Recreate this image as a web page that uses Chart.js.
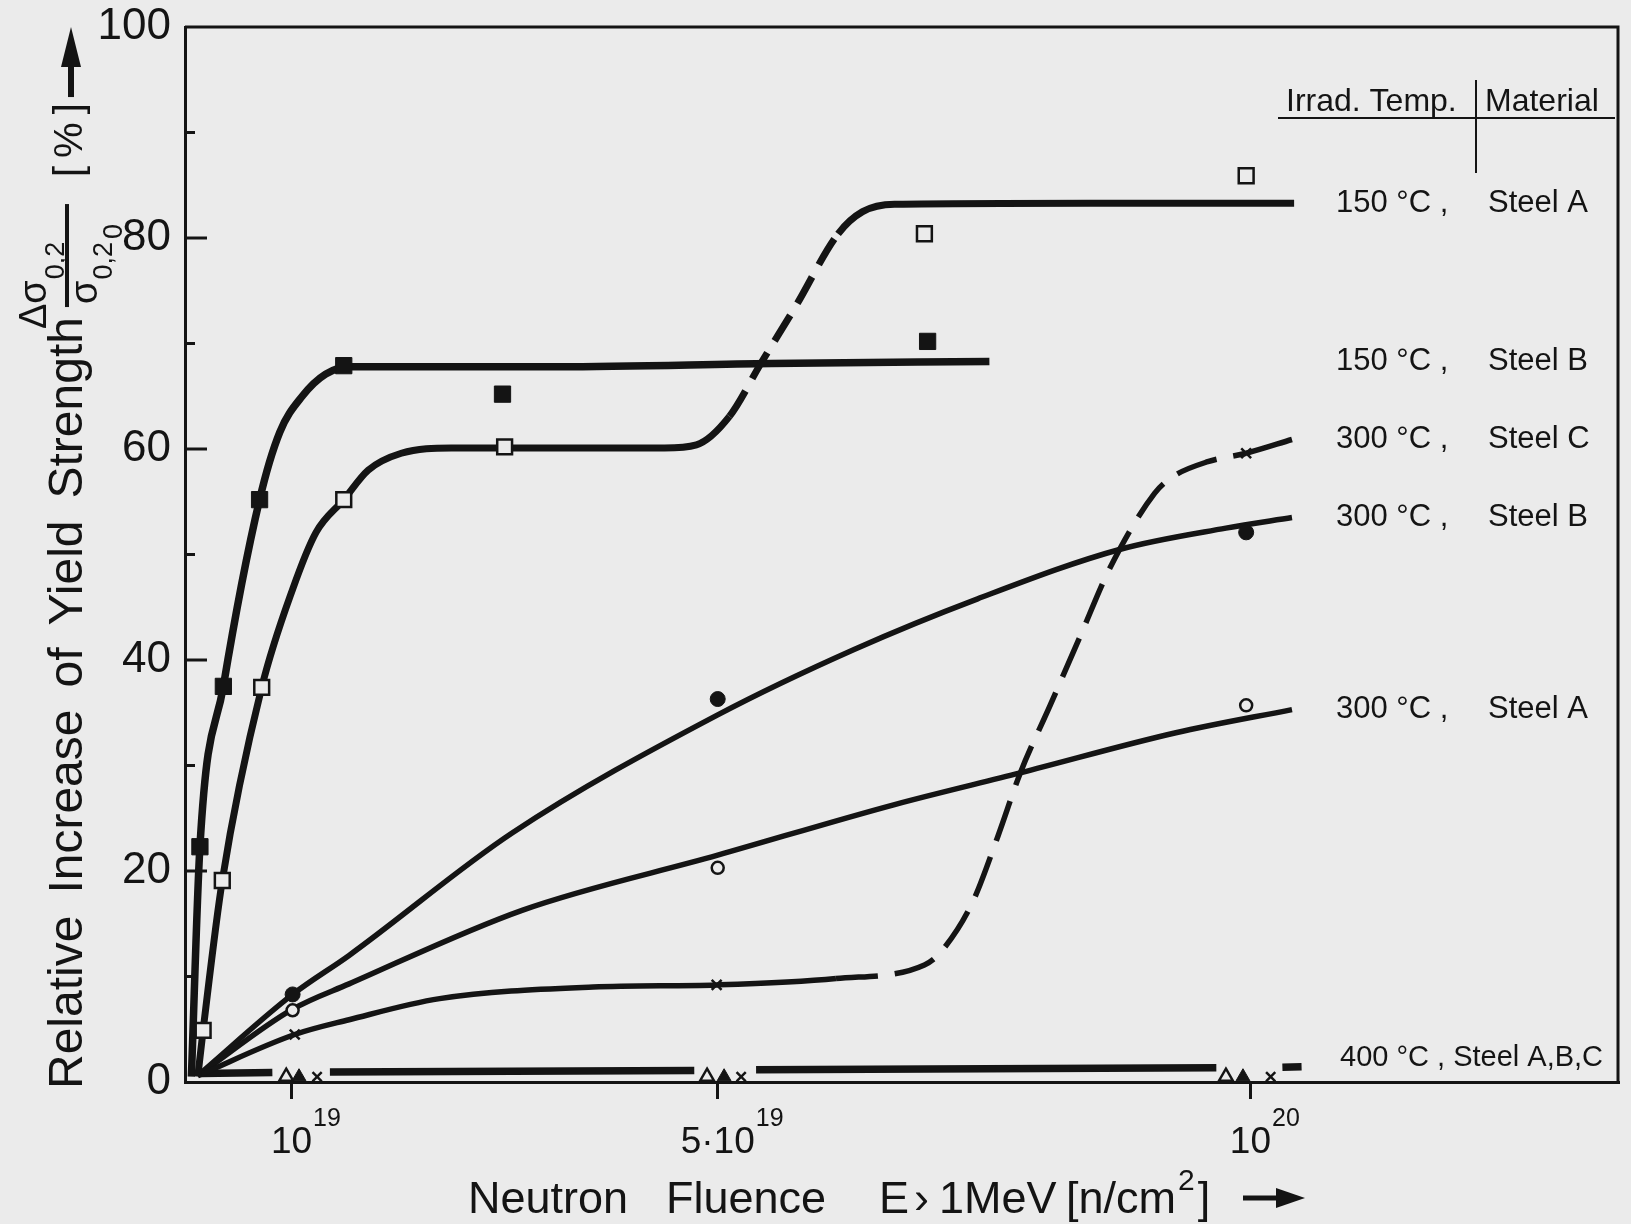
<!DOCTYPE html>
<html>
<head>
<meta charset="utf-8">
<title>Relative increase of yield strength vs neutron fluence</title>
<script src="https://cdn.jsdelivr.net/npm/chart.js@4.4.1/dist/chart.umd.min.js"></script>
<style>
  html, body { margin: 0; padding: 0; background: #ebebeb; overflow: hidden; }
  #wrap { width: 1631px; height: 1224px; }
</style>
</head>
<body>
<div id="wrap"><canvas id="chart" width="1631" height="1224"></canvas></div>
<script>
// x in units of 1e19 n/cm2, y in %
const xTickValues = [1, 5, 10];
const xTickBase = ["10", "5·10", "10"];
const xTickExp = ["19", "19", "20"];
const yTickValues = [0, 20, 40, 60, 80, 100];

// measured points
const sqOpenX = [0.17, 0.35, 0.72, 1.49, 3.0, 6.94, 9.96];
const sqOpenY = [4.9, 19.1, 37.4, 55.2, 60.2, 80.4, 85.9];
const sqFilledX = [0.14, 0.36, 0.70, 1.49, 2.98, 6.97];
const sqFilledY = [22.3, 37.5, 55.2, 67.9, 65.2, 70.2];
const crossX = [1.03, 4.99, 9.96];
const crossY = [4.5, 9.2, 59.6];
const dotFilledX = [1.01, 5.0, 9.96];
const dotFilledY = [8.3, 36.3, 52.1];
const dotOpenX = [1.01, 5.0, 9.96];
const dotOpenY = [6.8, 20.3, 35.7];
const triOpen400X = [0.95, 4.90, 9.77];
const triFilled400X = [1.07, 5.06, 9.93];
const cross400X = [1.24, 5.22, 10.19];
const at400Y = [0.5, 0.5, 0.5];

// hand drawn fit curves
const fit150A_x = [0.12, 0.17, 0.35, 0.72, 1.01, 1.23, 1.49, 1.72, 2.03, 2.5, 4.5, 4.8, 5.11, 5.41, 5.73, 6.13, 6.36, 6.66, 8.5, 10.41];
const fit150A_y = [0.5, 4.9, 19.1, 37.4, 46.7, 52.1, 55.2, 58.0, 59.6, 60.1, 60.1, 60.4, 63.1, 68.2, 73.5, 80.4, 82.5, 83.2, 83.3, 83.3];
const fit150B_x = [0.06, 0.14, 0.36, 0.70, 0.89, 1.10, 1.32, 1.55, 3.5, 5.5, 7.55];
const fit150B_y = [0.5, 22.3, 37.5, 55.2, 61.6, 65.0, 67.1, 67.8, 67.8, 68.1, 68.3];
const fit300C_x = [0.12, 1.03, 1.54, 2.39, 3.83, 4.99, 6.11, 6.94, 7.10, 7.39, 7.63, 7.84, 8.12, 8.40, 8.68, 9.10, 9.26, 9.60, 9.96, 10.39];
const fit300C_y = [0.6, 4.5, 5.9, 7.9, 9.0, 9.2, 9.8, 11.1, 12.4, 17.0, 23.3, 29.3, 35.7, 42.2, 48.7, 55.8, 57.3, 58.8, 59.6, 60.9];
const fit300B_x = [0.12, 1.01, 1.54, 3.07, 5.0, 6.28, 7.44, 8.78, 9.77, 10.39];
const fit300B_y = [0.6, 8.3, 12.0, 23.6, 34.8, 41.0, 45.8, 50.5, 52.5, 53.5];
const fit300A_x = [0.12, 1.01, 1.54, 3.17, 5.0, 6.66, 7.84, 9.30, 10.39];
const fit300A_y = [0.6, 6.9, 9.3, 16.3, 21.5, 26.3, 29.3, 33.1, 35.3];
const fit400_x = [0.15, 0.82, 0.83, 1.36, 4.78, 4.79, 5.36, 9.68, 9.69, 10.30, 10.48];
const fit400_y = [0.8, 0.9, null, 0.95, 1.1, null, 1.15, 1.35, null, 1.4, 1.45];

const tempNames = ["150 °C ,", "150 °C ,", "300 °C ,", "300 °C ,", "300 °C ,"];
const steelNames = ["Steel A", "Steel B", "Steel C", "Steel B", "Steel A"];
const label400 = "400 °C , Steel A,B,C";

const ink = "#141414";
const paper = "#ebebeb";
const family = '"Liberation Sans", Arial, sans-serif';

function pts(xs, ys) {
  return xs.map((x, i) => ({ x: x, y: ys[i] }));
}

function dashedBetween(from, to, pattern) {
  return ctx => (ctx.p0.parsed.x >= from - 1e-6 && ctx.p1.parsed.x <= to + 1e-6) ? pattern : undefined;
}

function curve(xs, ys, width, name, dash) {
  const ds = {
    data: pts(xs, ys),
    showLine: true,
    borderColor: ink,
    borderWidth: width,
    borderCapStyle: "butt",
    pointRadius: 0,
    cubicInterpolationMode: "monotone",
    tension: 0.4,
    order: 2,
    nameIndex: name
  };
  if (dash) ds.segment = { borderDash: dashedBetween(dash[0], dash[1], dash[2]) };
  return ds;
}

function marks(xs, ys, style, filled, radius, width) {
  return {
    data: pts(xs, ys),
    showLine: false,
    pointStyle: style,
    pointRadius: radius,
    pointBackgroundColor: filled ? ink : paper,
    pointBorderColor: ink,
    pointBorderWidth: width,
    order: 1
  };
}

const decorations = {
  id: "decorations",
  afterDraw(chart) {
    const ctx = chart.ctx;
    const area = chart.chartArea;
    const x = chart.scales.x;
    const y = chart.scales.y;
    ctx.save();
    ctx.strokeStyle = ink;
    ctx.fillStyle = ink;
    ctx.lineCap = "butt";

    // frame top / right
    ctx.lineWidth = 3;
    ctx.beginPath();
    ctx.moveTo(area.left, area.top);
    ctx.lineTo(area.right, area.top);
    ctx.lineTo(area.right, area.bottom);
    ctx.stroke();

    // inward y ticks
    for (let v = 10; v < 100; v += 10) {
      const py = y.getPixelForValue(v);
      const len = v % 20 === 0 ? 22 : 10;
      ctx.beginPath();
      ctx.moveTo(area.left, py);
      ctx.lineTo(area.left + len, py);
      ctx.stroke();
    }

    // x tick labels with superscript exponent
    ctx.textBaseline = "alphabetic";
    xTickValues.forEach((v, i) => {
      const px = x.getPixelForValue(v);
      ctx.font = "37px " + family;
      ctx.textAlign = "center";
      ctx.fillText(xTickBase[i], px, 1153);
      const w = ctx.measureText(xTickBase[i]).width;
      ctx.font = "25px " + family;
      ctx.textAlign = "left";
      ctx.fillText(xTickExp[i], px + w / 2 + 1, 1126);
    });

    // curve labels at the end of each curve
    ctx.textBaseline = "middle";
    ctx.textAlign = "left";
    ctx.font = "31px " + family;
    chart.data.datasets.forEach(ds => {
      if (ds.nameIndex === undefined) return;
      const last = ds.data[ds.data.length - 1];
      const py = y.getPixelForValue(last.y);
      if (ds.nameIndex === 5) {
        ctx.font = "29px " + family;
        ctx.textBaseline = "alphabetic";
        ctx.fillText(label400, 1340, py - 1);
        ctx.font = "31px " + family;
        ctx.textBaseline = "middle";
      } else {
        ctx.fillText(tempNames[ds.nameIndex], 1336, py);
        ctx.fillText(steelNames[ds.nameIndex], 1488, py);
      }
    });

    // header of the label column
    ctx.font = "32px " + family;
    ctx.textBaseline = "alphabetic";
    ctx.fillText("Irrad. Temp.", 1286, 111);
    ctx.fillText("Material", 1485, 111);
    ctx.lineWidth = 2;
    ctx.beginPath();
    ctx.moveTo(1278, 118);
    ctx.lineTo(1615, 118);
    ctx.moveTo(1476, 80);
    ctx.lineTo(1476, 173);
    ctx.stroke();

    // x title
    ctx.font = "45px " + family;
    ctx.fillText("Neutron", 468, 1213);
    ctx.fillText("Fluence", 666, 1213);
    ctx.fillText("E", 879, 1213);
    ctx.fillText("›", 914, 1213);
    ctx.fillText("1MeV", 939, 1213);
    let tx = 1066;
    ctx.fillText("[n/cm", tx, 1213);
    tx += ctx.measureText("[n/cm").width + 2;
    ctx.font = "30px " + family;
    ctx.fillText("2", tx, 1190);
    tx += ctx.measureText("2").width + 3;
    ctx.font = "45px " + family;
    ctx.fillText("]", tx, 1213);
    ctx.lineWidth = 5;
    ctx.beginPath();
    ctx.moveTo(1243, 1198);
    ctx.lineTo(1280, 1198);
    ctx.stroke();
    ctx.beginPath();
    ctx.moveTo(1305, 1198);
    ctx.lineTo(1276, 1188);
    ctx.lineTo(1276, 1208);
    ctx.closePath();
    ctx.fill();

    // y title, rotated: (u, v) -> screen (v, -u)
    ctx.rotate(-Math.PI / 2);
    ctx.font = "48px " + family;
    let u = -1089;
    ["Relative", "Increase", "of", "Yield", "Strength"].forEach(w => {
      ctx.fillText(w, u, 82);
      u += ctx.measureText(w).width + 22;
    });
    const endU = u - 22;
    ctx.font = "38px " + family;
    ctx.fillText("Δσ", endU - 12, 46);
    const nu = endU - 12 + ctx.measureText("Δσ").width;
    ctx.font = "27px " + family;
    ctx.fillText("0,2", nu + 1, 64);
    ctx.lineWidth = 4;
    ctx.beginPath();
    ctx.moveTo(endU + 10, 67);
    ctx.lineTo(endU + 113, 67);
    ctx.stroke();
    ctx.font = "38px " + family;
    ctx.fillText("σ", endU + 13, 97);
    let du = endU + 13 + ctx.measureText("σ").width;
    ctx.font = "27px " + family;
    ctx.fillText("0,2", du + 1, 112);
    du += 1 + ctx.measureText("0,2").width;
    ctx.fillText("0", du + 3, 122);
    ctx.font = "40px " + family;
    ctx.fillText("[\u2009%\u2009]", endU + 140, 82);
    // upward arrow
    ctx.lineWidth = 6;
    ctx.beginPath();
    ctx.moveTo(endU + 220, 71);
    ctx.lineTo(endU + 255, 71);
    ctx.stroke();
    ctx.beginPath();
    ctx.moveTo(endU + 290, 71);
    ctx.lineTo(endU + 250, 61);
    ctx.lineTo(endU + 250, 81);
    ctx.closePath();
    ctx.fill();
    ctx.restore();
  }
};

new Chart(document.getElementById("chart"), {
  type: "scatter",
  data: {
    datasets: [
      marks(sqOpenX, sqOpenY, "rect", false, 10.5, 2.5),
      marks(sqFilledX, sqFilledY, "rect", true, 11.5, 1),
      marks(crossX, crossY, "crossRot", false, 7, 2.5),
      marks(dotFilledX, dotFilledY, "circle", true, 7.5, 1),
      marks(dotOpenX, dotOpenY, "circle", false, 6, 2.5),
      marks(triOpen400X, at400Y, "triangle", false, 8, 2.5),
      marks(triFilled400X, at400Y, "triangle", true, 8, 1),
      marks(cross400X, at400Y, "crossRot", false, 6.5, 2.5),
      curve(fit150A_x, fit150A_y, 7, 0, [5.11, 6.13, [30, 14]]),
      curve(fit150B_x, fit150B_y, 7.5, 1),
      curve(fit300C_x, fit300C_y, 5.5, 2, [6.11, 9.96, [42, 17]]),
      curve(fit300B_x, fit300B_y, 5.5, 3),
      curve(fit300A_x, fit300A_y, 5.5, 4),
      Object.assign(curve(fit400_x, fit400_y, 7.5, 5), { tension: 0, cubicInterpolationMode: "default" })
    ]
  },
  options: {
    responsive: false,
    animation: false,
    layout: { padding: { top: 27, right: 3, left: 0, bottom: 0 } },
    plugins: { legend: { display: false }, tooltip: { enabled: false } },
    scales: {
      x: {
        type: "linear",
        min: 0,
        max: 13.45,
        afterBuildTicks: s => { s.ticks = xTickValues.map(v => ({ value: v })); },
        afterFit: s => { s.height = 142; s.paddingLeft = 0; s.paddingRight = 0; },
        grid: { drawOnChartArea: false, drawTicks: true, tickLength: 17, color: ink, lineWidth: 3 },
        border: { display: true, color: ink, width: 3 },
        ticks: { display: false }
      },
      y: {
        min: 0,
        max: 100,
        afterBuildTicks: s => { s.ticks = yTickValues.map(v => ({ value: v })); },
        afterFit: s => { s.width = 185; s.paddingTop = 0; s.paddingBottom = 0; },
        grid: { drawOnChartArea: false, drawTicks: false },
        border: { display: true, color: ink, width: 3 },
        ticks: { font: { family: family, size: 44 }, color: ink, padding: 14 }
      }
    }
  },
  plugins: [decorations]
});
</script>
</body>
</html>
